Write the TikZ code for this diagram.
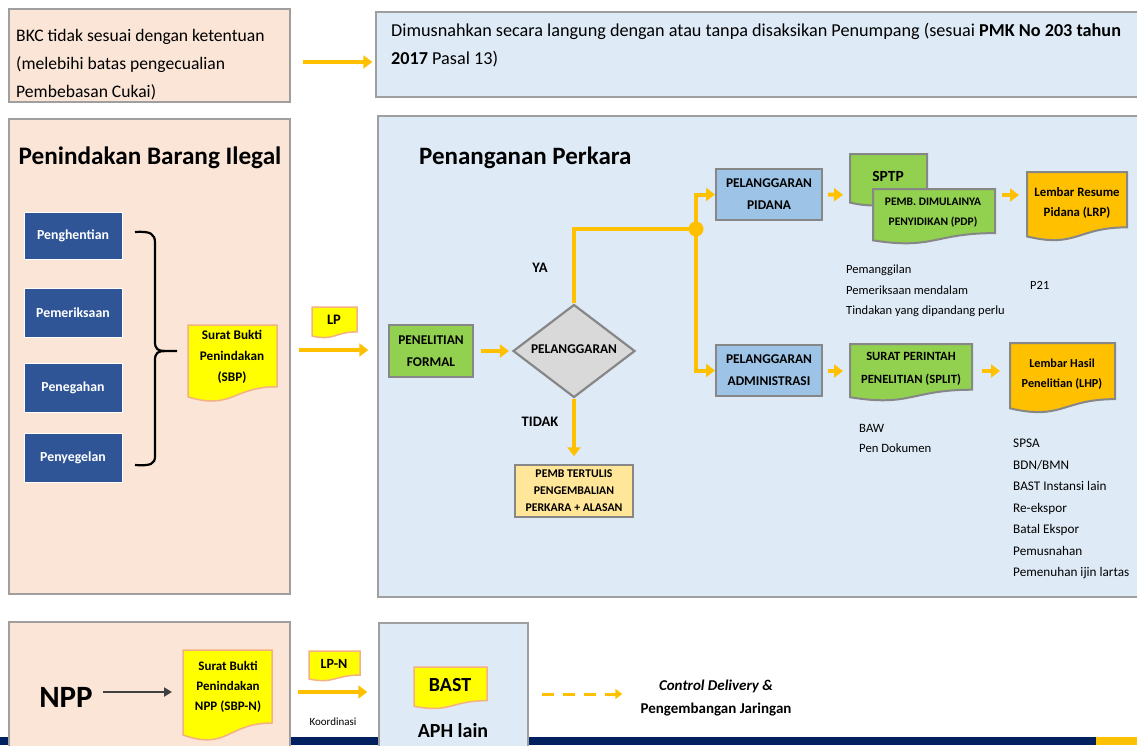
\documentclass[tikz,border=0pt]{standalone}
\usepackage{fontspec}
\setmainfont{Carlito}
\usetikzlibrary{arrows.meta,shapes.geometric}

\definecolor{peach}{HTML}{FBE5D6}
\definecolor{paleblue}{HTML}{DEEBF7}
\definecolor{rimgray}{HTML}{878787}
\definecolor{amber}{HTML}{FFC000}
\definecolor{navyblue}{HTML}{2F5597}
\definecolor{leafgreen}{HTML}{92D050}
\definecolor{skyblue}{HTML}{9DC3E6}
\definecolor{stonegray}{HTML}{D9D9D9}
\definecolor{sand}{HTML}{FFE699}
\definecolor{lemon}{HTML}{FFFF00}
\definecolor{rust}{HTML}{F4B183}
\definecolor{inkblue}{HTML}{002060}

% document shape with a wavy lower edge: style, x-left, y-top, x-right, height
\newcommand{\wavedoc}[5]{%
  \draw[#1] (#2,#3) -- (#4,#3) -- (#4,{#3+0.802*#5})
    .. controls ({(#2+#4)/2},{#3+0.802*#5}) and ({(#2+#4)/2},{#3+1.107*#5}) ..
    (#2,{#3+0.934*#5}) -- cycle;}

\begin{document}
\begin{tikzpicture}[x=1pt,y=-1pt,
  panel/.style={draw=rimgray!80, line width=1.4pt, inner sep=0pt},
  stepbox/.style={draw=rimgray, line width=2pt, inner sep=0pt, align=center,
    font=\bfseries\fontsize{13.4}{22}\selectfont},
  bluebox/.style={fill=navyblue, draw=white, line width=1pt, text=white, inner sep=0pt,
    font=\bfseries\fontsize{13.8}{15}\selectfont, minimum width=98pt},
  docfill/.style={draw=rimgray, line width=2pt},
  yarrow/.style={draw=amber, line width=4pt, -{Triangle[length=9pt,width=13pt]}},
  yline/.style={draw=amber, line width=4pt},
  lbl/.style={inner sep=0pt, align=center},
  note/.style={font=\fontsize{12.5}{20.5}\selectfont, align=left, inner sep=0pt, anchor=west}]
\useasboundingbox (0,0) rectangle (1137,745);
\clip (0,0) rectangle (1137,745);

% ---------- bottom bar ----------
\fill[inkblue] (0,737) rectangle (1096,745);
\fill[amber] (1096,737) rectangle (1137,745);

% ---------- top row ----------
\node[panel, fill=peach, minimum width=281pt, minimum height=93pt] (bkc) at (149.5,55.5) {};
\node[lbl, anchor=west, align=left, font=\fontsize{17.6}{28}\selectfont] (bkctxt) at (16,65)
  {BKC tidak sesuai dengan ketentuan\\(melebihi batas pengecualian\\Pembebasan Cukai)};
\node[panel, fill=paleblue, minimum width=774pt, minimum height=85pt] (dis) at (763,54.5) {};
\node[lbl, anchor=west, align=left, font=\fontsize{18.2}{28}\selectfont] (distxt) at (391,45.5)
  {Dimusnahkan secara langung dengan atau tanpa disaksikan Penumpang (sesuai \textbf{PMK No 203 tahun}\\
   \textbf{2017} Pasal 13)};
\coordinate (row1) at (0,62);
\draw[yarrow, shorten <=12pt, shorten >=3pt] (bkc.east |- row1) -- (dis.west |- row1);

% ---------- left panel ----------
\node[panel, fill=peach, minimum width=281pt, minimum height=475pt] (lpan) at (149.5,356.5) {};
\node[lbl, font=\bfseries\fontsize{25.2}{30}\selectfont] (ltitle) at (150,158) {Penindakan Barang Ilegal};
\node[bluebox, minimum height=47pt] (b1) at (73,235.5) {Penghentian};
\node[bluebox, minimum height=49pt] (b2) at (73,312.5) {Pemeriksaan};
\node[bluebox, minimum height=49pt] (b3) at (73,387.5) {Penegahan};
\node[bluebox, minimum height=49pt] (b4) at (73,457.5) {Penyegelan};
% curly brace gathering the four actions
\draw[black, line width=2.2pt]
  (135,232) .. controls (151,231) and (155,234) .. (155,243) -- (155,342)
  .. controls (155,349) and (158,351) .. (165,351) -- (177,351);
\draw[black, line width=2.2pt]
  (165,351) .. controls (158,351) and (155,353) .. (155,360) -- (155,456)
  .. controls (155,464) and (151,466) .. (135,465);
\wavedoc{fill=lemon, draw=rust, line width=1.5pt}{188}{325}{277}{77}
\node[lbl, font=\bfseries\fontsize{13.2}{21}\selectfont] (sbp) at (232,357) {Surat Bukti\\Penindakan\\(SBP)};

% ---------- LP link ----------
\wavedoc{fill=lemon, draw=rust, line width=1.5pt}{312}{307}{357}{31}
\node[lbl, font=\bfseries\fontsize{14.5}{16}\selectfont] (lp) at (334,320) {LP};

% ---------- main panel ----------
\node[panel, fill=paleblue, minimum width=780pt, minimum height=481pt] (mpan) at (768,356.5) {};
\coordinate (row2) at (0,350);
\draw[yarrow, shorten <=8pt, shorten >=9pt] (lpan.east |- row2) -- (mpan.west |- row2);
\node[lbl, anchor=west, font=\bfseries\fontsize{25}{30}\selectfont] (mtitle) at (419,158) {Penanganan Perkara};

\node[stepbox, fill=leafgreen, minimum width=84pt, minimum height=52pt] (pf) at (431,351) {PENELITIAN\\FORMAL};
\node[diamond, draw=rimgray, line width=2.2pt, fill=stonegray, minimum width=122pt,
      minimum height=93pt, inner sep=0pt] (dia) at (574,351) {};
\node[lbl, font=\bfseries\fontsize{13.4}{14}\selectfont] (diatxt) at (574,349) {PELANGGARAN};
\draw[yarrow, shorten <=7pt, shorten >=3pt] (pf.east) -- (dia.west);

\node[lbl, font=\bfseries\fontsize{14.5}{15}\selectfont] (ya) at (540,268) {YA};
\node[lbl, font=\bfseries\fontsize{14.5}{15}\selectfont] (tidak) at (540,422) {TIDAK};
\node[stepbox, fill=sand, line width=1.5pt, minimum width=118pt, minimum height=52pt,
      font=\bfseries\fontsize{11.8}{17}\selectfont] (tertulis) at (574,491)
      {PEMB TERTULIS\\PENGEMBALIAN\\PERKARA + ALASAN};
\draw[yarrow, shorten >=8pt] (dia.south) -- (tertulis.north);

\node[stepbox, fill=skyblue, minimum width=106pt, minimum height=51pt] (pid) at (769,194.5) {PELANGGARAN\\PIDANA};
\node[stepbox, fill=skyblue, minimum width=106pt, minimum height=51pt] (adm) at (769,370.5) {PELANGGARAN\\ADMINISTRASI};
\node[circle, fill=amber, minimum size=15pt, inner sep=0pt] (jn) at (696,229) {};
\draw[yline] (dia.north) |- (jn.center);
\draw[yarrow] (jn.center) |- (pid.west);
\draw[yarrow] (jn.center) |- (adm.west);

% criminal track
\wavedoc{fill=leafgreen, docfill}{850}{154}{927}{52}
\node[lbl, font=\bfseries\fontsize{15.5}{18}\selectfont] (sptp) at (888,176) {SPTP};
\wavedoc{fill=leafgreen, docfill}{873}{189}{995}{55}
\node[lbl, font=\bfseries\fontsize{11.5}{20}\selectfont] (pdp) at (933,213) {PEMB. DIMULAINYA\\PENYIDIKAN (PDP)};
\coordinate (sptpW) at (850,195);
\draw[yarrow, shorten <=5pt, shorten >=7pt] (pid.east) -- (sptpW);
\wavedoc{fill=amber, docfill}{1027}{172}{1127}{69}
\node[lbl, font=\bfseries\fontsize{12.8}{20}\selectfont] (lrp) at (1077,203) {Lembar Resume\\Pidana (LRP)};
\coordinate (pdpE) at (995,195);
\coordinate (lrpW) at (1027,195);
\draw[yarrow, shorten <=7pt, shorten >=8pt] (pdpE) -- (lrpW);
\node[note] (pidnotes) at (846,291) {Pemanggilan\\Pemeriksaan mendalam\\Tindakan yang dipandang perlu};
\node[note] (p21) at (1030,285) {P21};

% administrative track
\wavedoc{fill=leafgreen, docfill}{850}{344}{972}{57}
\node[lbl, font=\bfseries\fontsize{12.6}{23}\selectfont] (split) at (911,369) {SURAT PERINTAH\\PENELITIAN (SPLIT)};
\coordinate (splitW) at (850,371);
\draw[yarrow, shorten <=5pt, shorten >=7pt] (adm.east |- splitW) -- (splitW);
\wavedoc{fill=amber, docfill}{1010}{343}{1115}{70}
\node[lbl, font=\bfseries\fontsize{12.2}{20}\selectfont] (lhp) at (1062,374) {Lembar Hasil\\Penelitian (LHP)};
\coordinate (splitE) at (972,371);
\coordinate (lhpW) at (1010,371);
\draw[yarrow, shorten <=10pt, shorten >=10pt] (splitE) -- (lhpW);
\node[note, font=\fontsize{12.7}{20}\selectfont] (splitnotes) at (859,438) {BAW\\Pen Dokumen};
\node[note, font=\fontsize{13.2}{21.5}\selectfont] (lhpnotes) at (1013,509)
  {SPSA\\BDN/BMN\\BAST Instansi lain\\Re-ekspor\\Batal Ekspor\\Pemusnahan\\Pemenuhan ijin lartas};

% ---------- bottom row ----------
\node[panel, fill=peach, minimum width=281pt, minimum height=140pt] (npan) at (149.5,692) {};
\node[lbl, font=\bfseries\fontsize{31}{34}\selectfont] (npp) at (66,697) {NPP};
\wavedoc{fill=lemon, draw=rust, line width=1.5pt}{183}{650}{272}{91}
\node[lbl, font=\bfseries\fontsize{13}{20}\selectfont] (sbpn) at (228,687) {Surat Bukti\\Penindakan\\NPP (SBP-N)};
\coordinate (sbpnW) at (183,692);
\draw[draw=black!75, line width=2pt, -{Triangle[length=8pt,width=9pt]}, shorten <=10pt, shorten >=11pt]
  (npp.east |- sbpnW) -- (sbpnW);

\node[panel, fill=paleblue, minimum width=149pt, minimum height=140pt] (aph) at (453.5,693) {};
\coordinate (row3) at (0,692);
\draw[yarrow, shorten <=7pt, shorten >=11pt] (npan.east |- row3) -- (aph.west |- row3);
\wavedoc{fill=lemon, draw=rust, line width=1.5pt}{309}{651}{360}{30}
\node[lbl, font=\bfseries\fontsize{14}{14}\selectfont] (lpn) at (334,664) {LP-N};
\node[lbl, font=\fontsize{11}{13}\selectfont] (koord) at (333,722) {Koordinasi};

\wavedoc{fill=lemon, draw=rust, line width=1.5pt}{414}{667}{487}{42}
\node[lbl, font=\bfseries\fontsize{20}{22}\selectfont] (bast) at (450,685) {BAST};
\node[lbl, font=\bfseries\fontsize{20}{24}\selectfont] (aphl) at (453,731) {APH lain};

\node[lbl, font=\bfseries\fontsize{15}{23}\selectfont] (cd) at (716,698)
  {\textit{Control Delivery \&}\\Pengembangan Jaringan};
\coordinate (row4) at (0,694);
\draw[draw=amber, line width=3pt, dash pattern=on 12pt off 9pt,
      -{Triangle[length=7pt,width=10pt]}, shorten <=13pt, shorten >=18pt]
  (aph.east |- row4) -- (cd.west |- row4);
\end{tikzpicture}
\end{document}
